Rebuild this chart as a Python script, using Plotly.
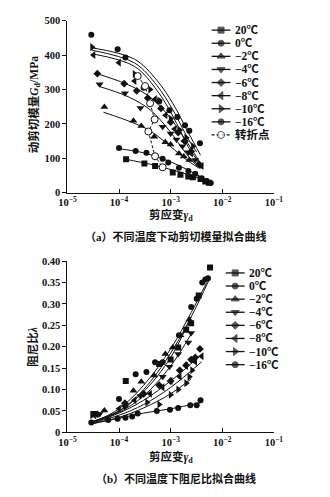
import plotly.graph_objects as go

# ---------------- data: (a) dynamic shear modulus ----------------
temps = ["20℃", "0℃", "−2℃", "−4℃", "−6℃", "−8℃", "−10℃", "−16℃"]
symbols = ["square", "circle", "triangle-up", "triangle-down", "diamond",
           "triangle-left", "triangle-right", "circle"]

g_strain_20 = [1.37e-4, 3.1e-4, 5.0e-4, 1.1e-3, 1.55e-3, 2.2e-3, 2.7e-3, 3.8e-3, 4.7e-3, 5.5e-3]
g_val_20 = [97, 85, 78, 59, 52, 47, 45, 40, 33, 29]
g_strain_0 = [1.0e-4, 2.1e-4, 3.4e-4, 7e-4, 9e-4, 1.45e-3, 2.2e-3, 3.0e-3, 4.0e-3, 5.0e-3, 6.0e-3]
g_val_0 = [130, 121, 116, 99, 88, 73, 63, 55, 42, 34, 28]
g_strain_m2 = [5.2e-5, 1.9e-4, 2.7e-4, 4.8e-4, 7.9e-4, 1.0e-3, 1.45e-3, 1.8e-3, 2.3e-3, 3.5e-3]
g_val_m2 = [249, 209, 194, 163, 147, 140, 114, 105, 95, 85]
g_strain_m4 = [4.2e-5, 1.3e-4, 2.6e-4, 7e-4, 1.0e-3, 1.3e-3, 1.7e-3, 2.2e-3, 3.0e-3]
g_val_m4 = [315, 289, 246, 192, 172, 155, 135, 118, 95]
g_strain_m6 = [3.8e-5, 1.26e-4, 2.2e-4, 3.6e-4, 6.5e-4, 1.0e-3, 1.4e-3, 1.9e-3, 2.5e-3, 3.7e-3]
g_val_m6 = [346, 317, 296, 275, 245, 205, 175, 150, 120, 80]
g_strain_m8 = [3.2e-5, 1.0e-4, 2.0e-4, 5.0e-4, 8e-4, 1.2e-3, 1.8e-3, 2.5e-3, 4.0e-3]
g_val_m8 = [400, 378, 325, 272, 225, 185, 150, 115, 78]
g_strain_m10 = [3.0e-5, 2.0e-4, 4.0e-4, 6.0e-4, 1.0e-3, 1.5e-3, 2.0e-3, 2.7e-3]
g_val_m10 = [423, 345, 300, 268, 215, 182, 160, 135]
g_strain_m16 = [2.9e-5, 9.4e-5, 1.33e-4, 3.0e-4, 6.0e-4, 9.5e-4, 1.35e-3, 1.9e-3, 2.3e-3, 3.7e-3]
g_val_m16 = [459, 417, 393, 305, 265, 240, 220, 196, 180, 144]

# fitted curves
gf_strain_20 = [1.37e-4, 4e-4, 1.1e-3, 2.5e-3, 5.8e-3]
gf_val_20 = [97, 83, 66, 50, 28]
gf_strain_0 = [1e-4, 3e-4, 7e-4, 1.4e-3, 3.3e-3, 6.5e-3]
gf_val_0 = [128, 116, 99, 80, 52, 27]
gf_strain_m2 = [5e-5, 1.75e-4, 4e-4, 9.5e-4, 1.9e-3, 3.5e-3]
gf_val_m2 = [234, 205, 180, 137, 99, 72]
gf_strain_m4 = [4.3e-5, 1.5e-4, 4e-4, 9.5e-4, 1.9e-3, 3e-3]
gf_val_m4 = [308, 279, 241, 180, 118, 83]
gf_strain_m6 = [3.7e-5, 1.33e-4, 3.5e-4, 8.2e-4, 1.9e-3, 3.8e-3]
gf_val_m6 = [346, 317, 284, 232, 156, 85]
gf_strain_m8 = [3.2e-5, 2e-4, 5.4e-4, 1.1e-3, 2.2e-3, 4e-3]
gf_val_m8 = [403, 367, 298, 223, 133, 78]
gf_strain_m10 = [3e-5, 2e-4, 5.4e-4, 1.1e-3, 2.2e-3, 3.2e-3]
gf_val_m10 = [414, 377, 312, 241, 156, 118]
gf_strain_m16 = [3e-5, 2e-4, 5.4e-4, 1.1e-3, 2.2e-3, 3.8e-3]
gf_val_m16 = [421, 388, 327, 260, 175, 109]

tp_strain = [2.3e-4, 3.2e-4, 4.0e-4, 4.9e-4, 3.7e-4, 5.0e-4, 7.0e-4]
tp_val = [339, 310, 260, 213, 178, 106, 74]

# ---------------- data: (b) damping ratio ----------------
d_strain_20 = [1.35e-4, 6e-4, 1.0e-3, 1.4e-3, 2.0e-3, 2.5e-3, 3.5e-3, 5.8e-3]
d_val_20 = [0.12, 0.16, 0.17, 0.198, 0.24, 0.255, 0.32, 0.385]
d_strain_0 = [1.0e-4, 2.1e-4, 3.4e-4, 5.0e-4, 7e-4, 1.45e-3, 2.5e-3, 3.2e-3, 4.1e-3, 4.7e-3, 5.3e-3]
d_val_0 = [0.078, 0.136, 0.141, 0.164, 0.164, 0.227, 0.293, 0.312, 0.35, 0.357, 0.36]
d_strain_m2 = [5.2e-5, 1.9e-4, 2.7e-4, 4.8e-4, 7.9e-4, 1.1e-3, 1.55e-3, 2.3e-3]
d_val_m2 = [0.051, 0.097, 0.118, 0.133, 0.183, 0.198, 0.227, 0.263]
d_strain_m4 = [3.3e-5, 4.2e-5, 1.3e-4, 2.6e-4, 7e-4, 9.5e-4, 1.4e-3, 2.2e-3, 2.5e-3]
d_val_m4 = [0.046, 0.043, 0.06, 0.085, 0.13, 0.153, 0.183, 0.21, 0.232]
d_strain_m6 = [3.8e-5, 1.3e-4, 3e-4, 6e-4, 1e-3, 1.5e-3, 2e-3, 2.5e-3, 3e-3, 3.7e-3]
d_val_m6 = [0.042, 0.068, 0.09, 0.11, 0.12, 0.145, 0.157, 0.17, 0.175, 0.195]
d_strain_m8 = [3.3e-5, 1e-4, 2e-4, 4e-4, 7e-4, 1e-3, 1.5e-3, 2e-3, 3e-3, 4e-3]
d_val_m8 = [0.04, 0.055, 0.075, 0.09, 0.105, 0.12, 0.13, 0.155, 0.165, 0.178]
d_strain_m10 = [3e-5, 3.5e-4, 6e-4, 1e-3, 1.4e-3, 2e-3, 2.3e-3, 2.6e-3]
d_val_m10 = [0.04, 0.07, 0.065, 0.088, 0.1, 0.115, 0.13, 0.145]
d_strain_m16 = [2.9e-5, 6.2e-5, 9.4e-5, 1.33e-4, 1.8e-4, 2.3e-4, 5.4e-4, 9.7e-4, 1.4e-3, 2.4e-3, 3.2e-3, 3.8e-3]
d_val_m16 = [0.023, 0.029, 0.032, 0.034, 0.037, 0.044, 0.05, 0.053, 0.057, 0.063, 0.063, 0.075]

df_strain_20 = [2.9e-5, 1e-4, 3e-4, 1e-3, 2.5e-3, 5.5e-3]
df_val_20 = [0.024, 0.05, 0.10, 0.185, 0.27, 0.355]
df_strain_0 = [2.9e-5, 1e-4, 3e-4, 1e-3, 2.5e-3, 5e-3]
df_val_0 = [0.022, 0.055, 0.11, 0.195, 0.28, 0.35]
df_strain_m2 = [3e-5, 1e-4, 3e-4, 1e-3, 2.5e-3]
df_val_m2 = [0.025, 0.05, 0.095, 0.175, 0.27]
df_strain_m4 = [3e-5, 1e-4, 3e-4, 1e-3, 2.5e-3]
df_val_m4 = [0.025, 0.047, 0.085, 0.155, 0.23]
df_strain_m6 = [3e-5, 1e-4, 3e-4, 1e-3, 3.8e-3]
df_val_m6 = [0.022, 0.045, 0.075, 0.12, 0.18]
df_strain_m8 = [3e-5, 1e-4, 3e-4, 1e-3, 4e-3]
df_val_m8 = [0.022, 0.04, 0.065, 0.105, 0.165]
df_strain_m10 = [3e-5, 1e-4, 3e-4, 1e-3, 2.5e-3]
df_val_m10 = [0.02, 0.035, 0.057, 0.09, 0.125]
df_strain_m16 = [2.9e-5, 1e-4, 3e-4, 1e-3, 4e-3]
df_val_m16 = [0.02, 0.033, 0.045, 0.055, 0.07]

x_tickvals = [1e-5, 1e-4, 1e-3, 1e-2, 1e-1]
x_ticktext = ["10<sup>−5</sup>", "10<sup>−4</sup>", "10<sup>−3</sup>", "10<sup>−2</sup>", "10<sup>−1</sup>"]
g_ticks = [0, 100, 200, 300, 400, 500]
d_ticks = [0, 0.05, 0.10, 0.15, 0.20, 0.25, 0.30, 0.35, 0.40]
d_ticktext = ["0", "0.05", "0.10", "0.15", "0.20", "0.25", "0.30", "0.35", "0.40"]

G_pts = [(g_strain_20, g_val_20), (g_strain_0, g_val_0), (g_strain_m2, g_val_m2),
         (g_strain_m4, g_val_m4), (g_strain_m6, g_val_m6), (g_strain_m8, g_val_m8),
         (g_strain_m10, g_val_m10), (g_strain_m16, g_val_m16)]
G_fit = [(gf_strain_20, gf_val_20), (gf_strain_0, gf_val_0), (gf_strain_m2, gf_val_m2),
         (gf_strain_m4, gf_val_m4), (gf_strain_m6, gf_val_m6), (gf_strain_m8, gf_val_m8),
         (gf_strain_m10, gf_val_m10), (gf_strain_m16, gf_val_m16)]
D_pts = [(d_strain_20, d_val_20), (d_strain_0, d_val_0), (d_strain_m2, d_val_m2),
         (d_strain_m4, d_val_m4), (d_strain_m6, d_val_m6), (d_strain_m8, d_val_m8),
         (d_strain_m10, d_val_m10), (d_strain_m16, d_val_m16)]
D_fit = [(df_strain_20, df_val_20), (df_strain_0, df_val_0), (df_strain_m2, df_val_m2),
         (df_strain_m4, df_val_m4), (df_strain_m6, df_val_m6), (df_strain_m8, df_val_m8),
         (df_strain_m10, df_val_m10), (df_strain_m16, df_val_m16)]

W, H = 330, 497
FONT = "Liberation Serif, Noto Sans CJK SC, serif"
INK = "#111111"

def msize(sym):
    return 7 if sym.startswith("triangle") else 6

fig = go.Figure()

# top panel
for (fx, fy) in G_fit:
    fig.add_trace(go.Scatter(x=fx, y=fy, mode="lines", line=dict(color=INK, width=1, shape="spline"),
                             xaxis="x", yaxis="y", showlegend=False, hoverinfo="skip"))
for (px, py), sym in zip(G_pts, symbols):
    fig.add_trace(go.Scatter(x=px, y=py, mode="markers",
                             marker=dict(symbol=sym, size=msize(sym), color=INK),
                             xaxis="x", yaxis="y", showlegend=False))
fig.add_trace(go.Scatter(x=tp_strain, y=tp_val, mode="lines+markers",
                         line=dict(color=INK, width=1, dash="3px,2px"),
                         marker=dict(symbol="circle", size=7, color="white", line=dict(width=1, color=INK)),
                         xaxis="x", yaxis="y", showlegend=False))

# bottom panel
for (fx, fy) in D_fit:
    fig.add_trace(go.Scatter(x=fx, y=fy, mode="lines", line=dict(color=INK, width=1, shape="spline"),
                             xaxis="x2", yaxis="y2", showlegend=False, hoverinfo="skip"))
for (px, py), sym in zip(D_pts, symbols):
    fig.add_trace(go.Scatter(x=px, y=py, mode="markers",
                             marker=dict(symbol=sym, size=msize(sym), color=INK),
                             xaxis="x2", yaxis="y2", showlegend=False))

# manual legends drawn on a pixel-unit overlay axis
annotations = []
def legend(x0, y0, step, names, syms, open_last=False, textsize=11.5):
    for i, (nm, sym) in enumerate(zip(names, syms)):
        y = y0 + i * step
        dashed = open_last and i == len(names) - 1
        fig.add_trace(go.Scatter(
            x=[x0, x0 + 10, x0 + 20], y=[y, y, y], mode="lines+markers",
            line=dict(color=INK, width=1.3, dash="3px,2px" if dashed else "solid"),
            marker=dict(symbol="circle" if dashed else sym,
                        size=[0, 7 if dashed else msize(sym), 0],
                        color="white" if dashed else INK,
                        line=dict(width=1, color=INK)),
            xaxis="x3", yaxis="y3", showlegend=False, hoverinfo="skip"))
        annotations.append(dict(x=x0 + 23, y=y, xref="x3", yref="y3", text=nm, showarrow=False,
                                xanchor="left", yanchor="middle",
                                font=dict(family=FONT, size=textsize, color=INK, weight="bold")))

legend(215, 25.7, 13.4, temps + ["转折点"], symbols + ["circle-open"], open_last=True)
legend(230, 274, 13.4, temps, symbols)

axis_common = dict(showline=True, linecolor=INK, linewidth=1, showgrid=False, zeroline=False,
                   tickcolor=INK, ticklen=4, tickwidth=1,
                   tickfont=dict(family=FONT, size=10.5, color=INK, weight="bold"))

xd = [62 / W, 281 / W]
fig.update_layout(
    width=W, height=H, margin=dict(l=0, r=0, t=0, b=0),
    paper_bgcolor="white", plot_bgcolor="rgba(0,0,0,0)",
    xaxis=dict(domain=xd, type="log", range=[-5, -1], tickvals=x_tickvals, ticktext=x_ticktext,
               ticks="inside", anchor="y", **axis_common),
    yaxis=dict(domain=[1 - 192 / H, 1 - 16 / H], range=[0, 500], tickvals=g_ticks,
               ticks="outside", anchor="x", **axis_common),
    xaxis2=dict(domain=xd, type="log", range=[-5, -1], tickvals=x_tickvals, ticktext=x_ticktext,
                ticks="inside", anchor="y2", **axis_common),
    yaxis2=dict(domain=[1 - 437 / H, 1 - 262 / H], range=[0, 0.40], tickvals=d_ticks,
                ticktext=d_ticktext, ticks="outside", anchor="x2", **axis_common),
    xaxis3=dict(domain=[0, 1], range=[0, W], visible=False, anchor="y3", fixedrange=True),
    yaxis3=dict(domain=[0, 1], range=[H, 0], visible=False, anchor="x3", fixedrange=True),
)

def ptxt(x, y, text, size=11.5, angle=0, bold=True):
    annotations.append(dict(x=x / W, y=1 - y / H, xref="paper", yref="paper", text=text,
                            showarrow=False, xanchor="center", yanchor="middle", textangle=angle,
                            font=dict(family=FONT, size=size, color=INK,
                                      weight="bold" if bold else "normal")))

ptxt(27, 102, "动剪切模量<i>G</i><sub>d</sub>/MPa", size=11.5, angle=-90)
ptxt(172, 215, "剪应变<i>γ</i><sub>d</sub>", size=11.5)
ptxt(177, 237, "（a）不同温度下动剪切模量拟合曲线", size=11)
ptxt(25, 350, "阻尼比<i>λ</i>", size=11.5, angle=-90)
ptxt(172, 463, "剪应变<i>γ</i><sub>d</sub>", size=11.5)
ptxt(177, 484, "（b）不同温度下阻尼比拟合曲线", size=11)

fig.update_layout(annotations=annotations)
fig.write_html("out.html")
